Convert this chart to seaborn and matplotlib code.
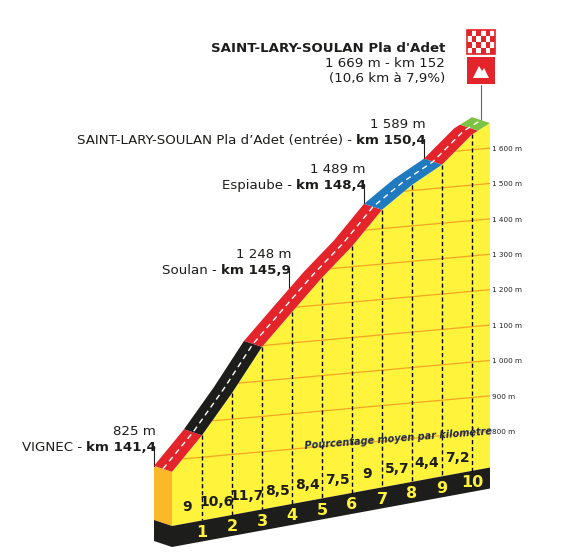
import matplotlib
matplotlib.use("Agg")
import matplotlib.pyplot as plt
from matplotlib.patches import Polygon, Rectangle
import seaborn as sns
import numpy as np

sns.set_theme(style="white")
plt.rcParams['font.family'] = ['DejaVu Sans']

# profile data
km = [0, 1, 2, 3, 4, 5, 6, 7, 8, 9, 10, 10.6]
elev = [825, 915, 1021, 1138, 1223, 1307, 1382, 1472, 1529, 1573, 1645, 1669]
pct = ["9", "10,6", "11,7", "8,5", "8,4", "7,5", "9", "5,7", "4,4", "7,2"]
km_ticks = [1, 2, 3, 4, 5, 6, 7, 8, 9, 10]
grid_elev = [800, 900, 1000, 1100, 1200, 1300, 1400, 1500, 1600]
grid_labels = ["800 m", "900 m", "1 000 m", "1 100 m", "1 200 m", "1 300 m", "1 400 m", "1 500 m", "1 600 m"]
# road colour sections (start km, end km, colour)
sections = [(0, 1, "#e3242b"), (1, 3, "#1d1d1b"), (3, 7, "#e3242b"),
            (7, 9, "#1f7ac0"), (9, 10.2, "#e3242b"), (10.2, 10.6, "#7dc242")]
# labelled points
points = [(0, 825, "VIGNEC - ", "km 141,4", "825 m"),
          (4.5, 1248, "Soulan - ", "km 145,9", "1 248 m"),
          (7, 1489, "Espiaube - ", "km 148,4", "1 489 m"),
          (9, 1589, "SAINT-LARY-SOULAN Pla d\u2019Adet (entrée) - ", "km 150,4", "1 589 m")]

# projection helpers (pseudo 3D)
X0, PXKM = 172, 30.0
PXM, SLANT = 0.354, 0.157
BACK = np.array([-18, -6])


def px(k):
    return X0 + PXKM * np.asarray(k)


def py(x, e, slant=SLANT):
    return 432 - (np.asarray(e) - 800) * PXM + slant * (482 - np.asarray(x))


def base_top(x):
    return 526 + (np.asarray(x) - 172) * (469 - 526) / 310.0


def profile(k):
    e = np.interp(k, km, elev)
    x = px(k)
    return x, py(x, e)


fig = plt.figure(figsize=(5.79, 5.59), dpi=100)
ax = fig.add_axes([0, 0, 1, 1])
ax.set_xlim(0, 579)
ax.set_ylim(559, 0)
ax.axis("off")

xr = px(km[-1])
# yellow front face
xs, ys = profile(np.array(km))
face = list(zip(xs, ys)) + [(xr, base_top(xr)), (X0, base_top(X0))]
face_patch = Polygon(face, closed=True, fc="#fff33b", ec="none", zorder=1)
ax.add_patch(face_patch)
# grid lines, clipped to the face
for g in grid_elev:
    gx = np.array([X0, xr])
    ln, = ax.plot(gx, py(gx, g, 0.09), color="#f5a623", lw=0.9, zorder=2)
    ln.set_clip_path(face_patch)
for g, lab in zip(grid_elev, grid_labels):
    ax.text(492, py(482, g), lab, fontsize=5.2, va="center", ha="left", color="#222")

# dashed km lines
for k in km_ticks:
    x = px(k)
    e = np.interp(k, km, elev)
    ax.plot([x, x], [py(x, e), base_top(x)], color="black", lw=1, ls=(0, (3, 2)), zorder=3)

# left side and black base
ax.add_patch(Polygon([(X0, py(X0, 825)), (X0 + BACK[0], py(X0, 825) + BACK[1]),
                      (X0 + BACK[0], base_top(X0) + BACK[1]), (X0, base_top(X0))],
                     fc="#fbb829", ec="none", zorder=2))
ax.add_patch(Polygon([(X0 + BACK[0], base_top(X0) + BACK[1]), (X0, base_top(X0)), (xr, base_top(xr)),
                      (xr, base_top(xr) + 21), (X0, base_top(X0) + 21), (X0 + BACK[0], base_top(X0) + BACK[1] + 21)],
                     fc="#1d1d1b", ec="none", zorder=2))

cond = dict(family=["DejaVu Sans"], fontweight="bold")
for i, p in enumerate(pct):
    xc = px(i + 0.5)
    ax.text(xc, base_top(xc) - 16, p, ha="center", va="center", fontsize=10, color="#1d1d1b", **cond)
for k in km_ticks:
    xc = px(k)
    ax.text(xc, base_top(xc) + 12, str(k), ha="center", va="center", fontsize=11.5, color="#fff33b", **cond)
ax.text(398, 438, "Pourcentage moyen par kilomètre", ha="center", va="center", rotation=4.5,
        fontsize=7, color="#1d2a4d", fontstyle="italic", **cond)

# road band
for a, b, c in sections:
    kk = np.linspace(a, b, 30)
    kk = np.unique(np.concatenate([kk, [k for k in km if a < k < b]]))
    fx, fy = profile(kk)
    front = np.column_stack([fx, fy])
    back = front + BACK
    ax.add_patch(Polygon(np.vstack([front, back[::-1]]), fc=c, ec="none", zorder=4))
kk = np.linspace(0, 10.6, 200)
fx, fy = profile(kk)
ax.plot(fx + BACK[0] / 2, fy + BACK[1] / 2, color="white", lw=1, ls=(0, (4, 3)), zorder=5)

# labels with pointers
fig.canvas.draw()
rend = fig.canvas.get_renderer()
inv = ax.transData.inverted()


def two_part(xr_, y, normal, bold, size=9.6):
    t = ax.text(xr_, y, bold, ha="right", va="baseline", fontsize=size, fontweight="bold", color="#1d1d1b")
    bb = t.get_window_extent(rend)
    xl = inv.transform((bb.x0, bb.y0))[0]
    ax.text(xl, y, normal, ha="right", va="baseline", fontsize=size, color="#1d1d1b")


for k, e, nm, kmlab, el in points:
    x, y = profile(k)
    bx, by = x + BACK[0], y + BACK[1]
    top = by - 20
    ax.plot([bx, bx], [top, by], color="#1d1d1b", lw=0.8, zorder=3)
    two_part(bx + 2, top + 5, nm, kmlab)
    ax.text(bx + 2, top - 11, el, ha="right", va="baseline", fontsize=9.6, color="#1d1d1b")

# summit
sx, sy = profile(10.6)
sx = sx + BACK[0] / 2
ax.plot([sx, sx], [85, sy + BACK[1] / 2], color="#666", lw=0.8, zorder=3)
ax.text(445, 52, "SAINT-LARY-SOULAN Pla d'Adet", ha="right", va="baseline", fontsize=9.6, fontweight="bold", color="#1d1d1b")
ax.text(445, 67, "1 669 m - km 152", ha="right", va="baseline", fontsize=9.6, color="#1d1d1b")
ax.text(445, 82, "(10,6 km à 7,9%)", ha="right", va="baseline", fontsize=9.6, color="#1d1d1b")
fx0, fy0, fw = sx - 14, 30, 28
ax.add_patch(Rectangle((fx0, fy0), fw, 24, fc="white", ec="#e3242b", lw=1.2, zorder=6))
n = 6
for i in range(n):
    for j in range(4):
        if (i + j) % 2 == 0:
            ax.add_patch(Rectangle((fx0 + i * fw / n, fy0 + j * 6), fw / n, 6, fc="#e3242b", ec="none", zorder=6))
ax.add_patch(Rectangle((fx0, 57), fw, 27, fc="#e3242b", ec="none", zorder=6))
ax.add_patch(Polygon([(sx - 8, 78), (sx - 2, 66), (sx + 1, 71), (sx + 3, 68), (sx + 8, 78)], fc="white", ec="none", zorder=7))

fig.savefig("out.png", dpi=100)
